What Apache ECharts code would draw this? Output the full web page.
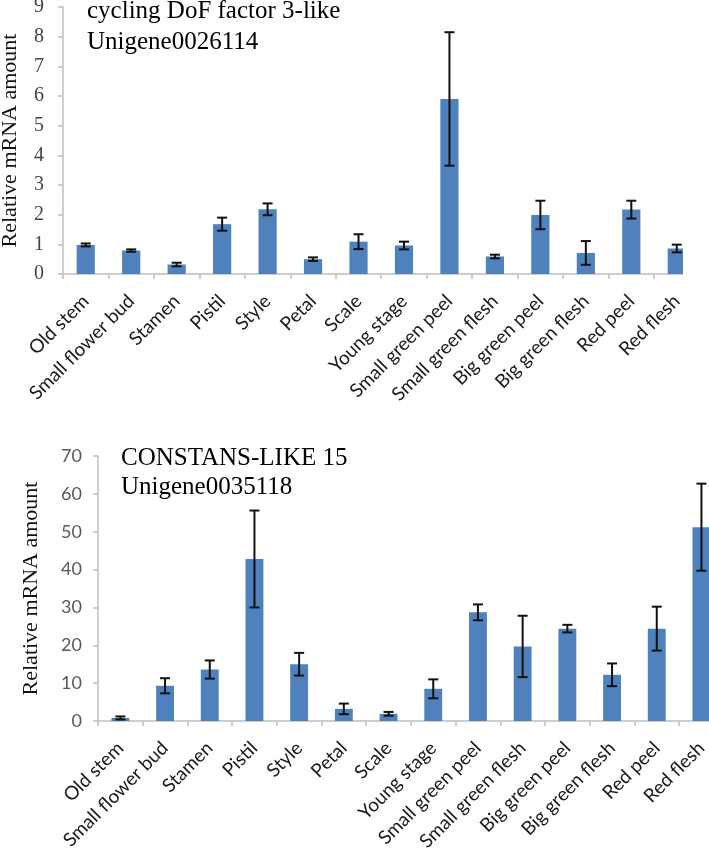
<!DOCTYPE html>
<html>
<head>
<meta charset="utf-8">
<script src="https://cdn.jsdelivr.net/npm/echarts@6/dist/echarts.min.js"></script>
<style>
html,body{margin:0;padding:0;background:#fff;}
#chart{width:709px;height:856px;}
</style>
</head>
<body>
<div id="chart"></div>
<script>
const categories = ['Old stem','Small flower bud','Stamen','Pistil','Style','Petal','Scale','Young stage','Small green peel','Small green flesh','Big green peel','Big green flesh','Red peel','Red flesh'];

const dofValues = [0.98, 0.79, 0.32, 1.68, 2.18, 0.50, 1.09, 0.96, 5.90, 0.59, 1.99, 0.71, 2.17, 0.86];
const dofErrors = [0.05, 0.04, 0.06, 0.22, 0.20, 0.06, 0.25, 0.13, 2.25, 0.06, 0.48, 0.40, 0.30, 0.13];

const colValues = [0.8, 9.3, 13.6, 42.8, 15.0, 3.2, 1.9, 8.5, 28.7, 19.7, 24.4, 12.2, 24.4, 51.2];
const colErrors = [0.4, 2.0, 2.4, 12.8, 3.0, 1.4, 0.5, 2.5, 2.1, 8.1, 1.0, 3.0, 5.8, 11.5];

const topTicks = [0,1,2,3,4,5,6,7,8,9];
const bottomTicks = [0,10,20,30,40,50,60,70];

const BAR = '#4F81BD';
const AX = '#BFBFBF';

function errItem(params, api) {
  const x = api.value(0), v = api.value(1), e = api.value(2);
  const hi = api.coord([x, v + e]);
  const lo = api.coord([x, v - e]);
  const w = 5;
  const st = {stroke: '#111', lineWidth: 2};
  return {type: 'group', children: [
    {type: 'line', shape: {x1: hi[0], y1: hi[1], x2: lo[0], y2: lo[1]}, style: st},
    {type: 'line', shape: {x1: hi[0]-w, y1: hi[1], x2: hi[0]+w, y2: hi[1]}, style: st},
    {type: 'line', shape: {x1: lo[0]-w, y1: lo[1], x2: lo[0]+w, y2: lo[1]}, style: st}
  ]};
}

function xAxisCfg(gi) {
  return {
    type: 'category', gridIndex: gi, data: categories,
    axisLine: {lineStyle: {color: AX, width: 1.5}},
    axisTick: {show: true, length: 5, lineStyle: {color: AX, width: 1.5}},
    axisLabel: {rotate: 45, interval: 0, margin: 24, fontFamily: 'Lato', fontSize: 19, color: '#1a1a1a'}
  };
}

const chart = echarts.init(document.getElementById('chart'));
chart.setOption({
  animation: false,
  backgroundColor: '#fff',
  grid: [
    {left: 63, top: 7, width: 636.5, height: 267, containLabel: false, outerBoundsMode: 'none'},
    {left: 98, top: 456, width: 625.8, height: 265, containLabel: false, outerBoundsMode: 'none'}
  ],
  xAxis: [xAxisCfg(0), xAxisCfg(1)],
  yAxis: [
    {
      type: 'value', gridIndex: 0, min: topTicks[0], max: topTicks[topTicks.length-1], interval: 1,
      splitLine: {show: false},
      axisLine: {show: true, lineStyle: {color: AX, width: 1.5}},
      axisTick: {show: true, length: 5, lineStyle: {color: AX, width: 1.5}},
      axisLabel: {margin: 19, fontFamily: 'Liberation Serif', fontSize: 20, color: '#444'},
      name: 'Relative mRNA amount', nameLocation: 'middle', nameGap: 42, nameRotate: 90, nameMoveOverlap: false,
      nameTextStyle: {fontFamily: 'Liberation Serif', fontSize: 22, color: '#111'}
    },
    {
      type: 'value', gridIndex: 1, min: bottomTicks[0], max: bottomTicks[bottomTicks.length-1], interval: 10,
      splitLine: {show: false},
      axisLine: {show: true, lineStyle: {color: AX, width: 1.5}},
      axisTick: {show: true, length: 5, lineStyle: {color: AX, width: 1.5}},
      axisLabel: {margin: 16, fontFamily: 'Lato', fontSize: 18, color: '#595959'},
      name: 'Relative mRNA amount', nameLocation: 'middle', nameGap: 56, nameRotate: 90, nameMoveOverlap: false,
      nameTextStyle: {fontFamily: 'Liberation Serif', fontSize: 22, color: '#111'}
    }
  ],
  series: [
    {type: 'bar', xAxisIndex: 0, yAxisIndex: 0, data: dofValues, barWidth: '40%', itemStyle: {color: BAR}},
    {type: 'custom', xAxisIndex: 0, yAxisIndex: 0, renderItem: errItem, encode: {x: 0, y: 1}, z: 5,
     data: dofValues.map((v, i) => [i, v, dofErrors[i]])},
    {type: 'bar', xAxisIndex: 1, yAxisIndex: 1, data: colValues, barWidth: '40%', itemStyle: {color: BAR}},
    {type: 'custom', xAxisIndex: 1, yAxisIndex: 1, renderItem: errItem, encode: {x: 0, y: 1}, z: 5,
     data: colValues.map((v, i) => [i, v, colErrors[i]])}
  ],
  graphic: [
    {type: 'rect', left: 683, top: 0, z: 100, shape: {width: 30, height: 300}, style: {fill: '#fff'}},
    {type: 'text', x: 87, y: 11, z: 101, style: {text: 'cycling DoF factor 3-like', font: '25px "Liberation Serif"', fill: '#000', verticalAlign: 'middle'}},
    {type: 'text', x: 87, y: 42, z: 101, style: {text: 'Unigene0026114', font: '25px "Liberation Serif"', fill: '#000', verticalAlign: 'middle'}},
    {type: 'text', x: 121, y: 458, z: 101, style: {text: 'CONSTANS-LIKE 15', font: '25px "Liberation Serif"', fill: '#000', verticalAlign: 'middle'}},
    {type: 'text', x: 121, y: 487, z: 101, style: {text: 'Unigene0035118', font: '25px "Liberation Serif"', fill: '#000', verticalAlign: 'middle'}}
  ]
});
</script>
</body>
</html>
